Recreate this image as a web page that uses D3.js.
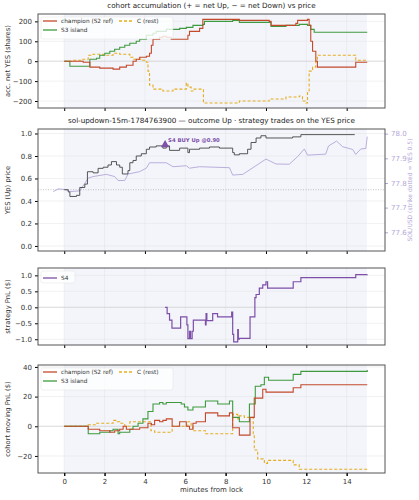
<!DOCTYPE html>
<html><head><meta charset="utf-8">
<script src="https://cdn.jsdelivr.net/npm/d3@7"></script>
<style>body{margin:0;background:#fff}text{font-family:"DejaVu Sans",sans-serif}</style>
</head><body><svg id="c" width="419" height="500"></svg>
<script>
// step series: [minutes from lock, value]
const accChampion = [[0,0],[0.94,-5],[1.27,-30],[1.76,-35],[2.42,-40],[2.75,-30],[3.08,-20],[3.41,0],[3.57,10],[3.74,20],[4.07,25],[4.23,40],[4.32,80],[4.4,110],[4.73,120],[4.89,125],[5.06,120],[5.3,110],[6.05,110],[6.13,130],[6.21,150],[6.71,165],[6.87,210],[8.68,205],[10.16,200],[10.25,180],[11.48,190],[11.57,205],[12.06,210],[12.14,180],[12.22,100],[12.31,50],[12.47,0],[12.55,-30],[14.45,-5],[15.02,-5]];
const accIsland = [[0,0],[0.28,-25],[1.19,-25],[1.27,10],[1.6,15],[1.76,30],[2.01,40],[2.26,50],[2.5,60],[2.75,70],[3.0,80],[3.25,90],[3.57,100],[3.74,110],[4.07,130],[4.4,140],[4.56,150],[5.06,160],[5.72,165],[6.05,170],[6.38,180],[6.87,185],[6.95,200],[8.35,205],[8.68,195],[10.16,195],[10.25,175],[10.99,180],[11.65,185],[12.06,180],[12.22,160],[12.39,145],[15.02,145]];
const accRest = [[0,0],[0.44,5],[0.86,10],[1.19,30],[1.43,35],[1.93,30],[2.42,40],[2.75,35],[3.25,20],[3.41,10],[3.9,5],[4.07,-5],[4.15,-50],[4.23,-120],[4.4,-140],[4.89,-150],[5.39,-140],[6.05,-110],[6.13,-130],[6.29,-150],[6.38,-140],[6.87,-140],[6.9,-210],[8.6,-210],[8.68,-200],[10.0,-200],[10.16,-190],[10.99,-180],[11.65,-175],[11.81,-200],[11.98,-210],[12.06,-150],[12.14,-50],[12.31,-30],[12.47,0],[12.55,30],[14.37,30],[14.45,5],[15.02,5]];
const yesPrice = [[0,0.50],[0.2,0.48],[0.28,0.44],[0.61,0.45],[0.77,0.52],[1.02,0.55],[1.15,0.66],[1.43,0.65],[1.68,0.69],[1.93,0.70],[2.17,0.72],[2.34,0.75],[2.59,0.72],[2.75,0.70],[2.88,0.64],[3.16,0.67],[3.25,0.74],[3.41,0.76],[3.57,0.80],[3.82,0.82],[4.07,0.86],[4.23,0.88],[4.56,0.89],[4.89,0.87],[5.06,0.89],[5.22,0.85],[5.72,0.87],[6.13,0.83],[6.21,0.86],[6.71,0.87],[7.2,0.88],[7.69,0.87],[8.35,0.83],[8.43,0.81],[8.68,0.82],[9.09,0.86],[9.26,0.92],[9.51,0.96],[9.75,0.98],[10.0,0.96],[11.32,0.97],[11.73,0.99],[14.4,0.99]];
const solPrice = [[-0.54,77.765],[-0.3,77.776],[0.1,77.773],[0.28,77.765],[0.77,77.768],[1.19,77.82],[1.43,77.826],[2.09,77.835],[2.5,77.826],[2.67,77.81],[3.0,77.81],[3.16,77.836],[3.74,77.846],[4.07,77.86],[4.23,77.882],[5.06,77.882],[5.39,77.866],[6.05,77.87],[6.21,77.86],[6.71,77.866],[8.19,77.862],[8.35,77.832],[8.85,77.835],[10.0,77.897],[10.5,77.877],[11.15,77.876],[11.57,77.907],[11.9,77.938],[12.06,77.913],[12.96,77.917],[13.1,77.95],[13.5,77.97],[13.8,77.947],[14.3,77.936],[14.45,77.916],[14.7,77.938],[14.95,77.94],[15.02,77.988]];
const s4Trade = {t: 5.0, price: 0.90, label: "S4 BUY Up @0.90"};
const s4Pnl = [[5.0,0],[5.1,-0.2],[5.22,-0.4],[5.34,-0.65],[5.77,-0.3],[6.08,-0.55],[6.13,-0.98],[6.21,-0.75],[6.26,-0.98],[6.34,-0.75],[6.4,-0.4],[7.0,-0.55],[7.03,-0.2],[7.07,-0.42],[7.36,-0.2],[7.6,-0.3],[8.3,-0.15],[8.35,-0.85],[8.4,-1.08],[8.6,-0.7],[8.63,-1.0],[8.68,-0.97],[9.21,-0.3],[9.45,0.3],[9.51,0.4],[9.67,0.6],[9.84,0.7],[10.0,0.8],[10.08,0.6],[11.35,0.8],[11.73,0.93],[14.45,1.02],[15.02,1.03]];
const pnlChampion = [[0,0],[1.19,-2],[1.76,-3],[2.26,-4],[2.5,-3],[2.75,-2],[2.92,0],[3.08,-2],[3.74,-1],[4.15,2],[4.32,1],[4.48,4],[4.73,3],[4.89,4],[5.06,5],[5.35,0],[5.72,3],[6.05,0],[6.21,-2],[6.38,2],[6.54,3],[7.0,9],[7.61,7],[8.19,9],[8.35,-1],[8.68,-6],[9.21,6],[9.42,19],[9.84,25],[10.0,23],[11.35,26],[11.73,28],[15.02,28]];
const pnlIsland = [[0,0],[1.19,-5],[1.76,-4],[2.26,-3],[2.42,-2],[2.67,-5],[2.75,-4],[3.25,-2],[3.41,0],[3.66,2],[3.9,5],[4.15,10],[4.4,15],[4.73,16],[4.89,15],[5.06,16],[5.8,15],[5.96,13],[6.13,11],[6.38,13],[7.0,17],[7.61,15],[8.19,17],[8.35,6],[8.68,3],[9.18,15],[9.47,27],[9.75,28],[9.92,33],[10.13,31],[11.35,35],[11.73,37],[14.95,37],[15.02,38]];
const pnlRest = [[0,0],[1.19,1],[1.6,2],[2.42,4],[2.59,3],[2.75,2],[3.0,0],[3.25,3],[4.07,3],[4.3,-3],[4.48,-4],[5.35,0],[6.13,3],[6.29,0],[6.38,-3],[7.0,-5],[8.35,8],[8.6,5],[8.68,7],[8.93,6],[9.37,-5],[9.42,-16],[9.59,-22],[9.92,-25],[10.08,-23],[11.35,-26],[11.65,-29],[15.02,-29]];
const xTicks = [0,2,4,6,8,10,12,14];

const C = {champ:"#c4492b", island:"#3f9a3f", rest:"#e6ad1e", yes:"#444", sol:"#b3a6d8", s4:"#7d4fa8"};
const svg = d3.select("#c");
const L = 38, R = 385;
const x = d3.scaleLinear().domain([-1.3, 15.9]).range([L, R]);

function panel(top, bottom, ydom, ticks, fmt, label) {
  const y = d3.scaleLinear().domain(ydom).range([bottom, top]);
  const g = svg.append("g");
  g.append("rect").attr("x", x(0)).attr("y", top).attr("width", x(15) - x(0)).attr("height", bottom - top).attr("fill", "#f3f5fb");
  g.selectAll(".gx").data(xTicks).join("line").attr("x1", d => x(d)).attr("x2", d => x(d)).attr("y1", top).attr("y2", bottom).attr("stroke", "#e3e3e3").attr("stroke-width", 0.5);
  g.selectAll(".gy").data(ticks).join("line").attr("x1", L).attr("x2", R).attr("y1", d => y(d)).attr("y2", d => y(d)).attr("stroke", "#e3e3e3").attr("stroke-width", 0.5);
  const ax = g.append("g").attr("transform", `translate(${L},0)`).call(d3.axisLeft(y).tickValues(ticks).tickFormat(fmt).tickSize(3));
  ax.select(".domain").remove();
  ax.selectAll("text").attr("font-size", 7).attr("fill", "#333");
  const bx = g.append("g").attr("transform", `translate(0,${bottom})`).call(d3.axisBottom(x).tickValues(xTicks).tickFormat("").tickSize(3));
  bx.select(".domain").remove();
  g.append("text").attr("transform", `translate(10,${(top + bottom) / 2}) rotate(-90)`).attr("text-anchor", "middle").attr("font-size", 6.8).attr("fill", "#333").text(label);
  return {g, y, top, bottom, frame() {
    g.append("rect").attr("x", L).attr("y", top).attr("width", R - L).attr("height", bottom - top).attr("fill", "none").attr("stroke", "#555").attr("stroke-width", 1);
  }};
}
const minus = d => String(d).replace("-", "\u2212");
function step(p, data, color, dash, w) {
  p.g.append("path").datum(data).attr("fill", "none").attr("stroke", color).attr("stroke-width", w || 1.1)
    .attr("stroke-dasharray", dash || null)
    .attr("d", d3.line().x(d => x(d[0])).y(d => p.y(d[1])).curve(d3.curveStepAfter));
}
function zeroLine(p) {
  p.g.append("line").attr("x1", L).attr("x2", R).attr("y1", p.y(0)).attr("y2", p.y(0)).attr("stroke", "#ccc").attr("stroke-width", 0.6);
}
function legend(p, items) {
  const lg = p.g.append("g");
  lg.append("rect").attr("x", L + 3).attr("y", p.top + 3).attr("width", items.length > 1 ? 132 : 34).attr("height", items.length > 1 ? 22 : 12).attr("fill", "#fff").attr("opacity", 0.8).attr("stroke", "#ddd").attr("stroke-width", 0.5).attr("rx", 2);
  items.forEach(it => {
    lg.append("line").attr("x1", it.x).attr("x2", it.x + 14).attr("y1", it.y).attr("y2", it.y).attr("stroke", it.c).attr("stroke-width", 1.3).attr("stroke-dasharray", it.d || null);
    lg.append("text").attr("x", it.x + 18).attr("y", it.y + 2).attr("font-size", 5.8).attr("fill", "#333").text(it.t);
  });
}
function title(yy, t) {
  svg.append("text").attr("x", (L + R) / 2).attr("y", yy).attr("text-anchor", "middle").attr("font-size", 7.2).attr("fill", "#222").text(t);
}

// panel 1
const p1 = panel(14, 108, [-235, 237], [-200,-100,0,100,200], minus, "acc. net YES (shares)");
zeroLine(p1);
step(p1, accRest, C.rest, "3,2");
step(p1, accIsland, C.island);
step(p1, accChampion, C.champ);
legend(p1, [{x:43,y:21,c:C.champ,t:"champion (S2 ref)"},{x:43,y:30,c:C.island,t:"S3 island"},{x:119,y:21,c:C.rest,t:"C (rest)",d:"3,2"}]);
p1.frame();
title(8, "cohort accumulation (+ = net Up, \u2212 = net Down) vs price");

// panel 2
const p2 = panel(129, 251, [-0.045, 1.04], [0,0.2,0.4,0.6,0.8,1.0], d3.format(".1f"), "YES (Up) price");
const yR = d3.scaleLinear().domain([77.524, 78.019]).range([251, 129]);
p2.g.append("line").attr("x1", L).attr("x2", R).attr("y1", p2.y(0.5)).attr("y2", p2.y(0.5)).attr("stroke", "#aaa").attr("stroke-width", 0.7).attr("stroke-dasharray", "1,1.5");
p2.g.append("path").datum(solPrice).attr("fill", "none").attr("stroke", C.sol).attr("stroke-width", 0.9)
  .attr("d", d3.line().x(d => x(d[0])).y(d => yR(d[1])));
step(p2, yesPrice, C.yes, null, 0.9);
p2.g.append("path").attr("d", d3.symbol(d3.symbolTriangle, 30)()).attr("transform", `translate(${x(s4Trade.t)},${p2.y(s4Trade.price)})`).attr("fill", C.s4);
p2.g.append("text").attr("x", x(s4Trade.t) + 3).attr("y", p2.y(s4Trade.price) - 3).attr("font-size", 5.3).attr("font-weight", "bold").attr("fill", C.s4).text(s4Trade.label);
const ra = p2.g.append("g").attr("transform", `translate(${R},0)`).call(d3.axisRight(yR).tickValues([77.6,77.7,77.8,77.9,78.0]).tickFormat(d3.format(".1f")).tickSize(3));
ra.select(".domain").remove();
ra.selectAll("line").attr("stroke", C.sol);
ra.selectAll("text").attr("font-size", 7).attr("fill", C.sol);
p2.g.append("text").attr("transform", `translate(412,190) rotate(-90)`).attr("text-anchor", "middle").attr("font-size", 6).attr("fill", C.sol).text("SOL/USD (strike dotted = YES 0.5)");
p2.frame();
title(123, "sol-updown-15m-1784763900 \u2014 outcome Up \u00b7 strategy trades on the YES price");

// panel 3
const p3 = panel(268, 345, [-1.18, 1.23], [-1.0,-0.5,0,0.5,1.0], d => minus(d3.format(".1f")(d)), "strategy PnL ($)");
zeroLine(p3);
step(p3, s4Pnl, C.s4, null, 1.2);
legend(p3, [{x:43,y:278,c:C.s4,t:"S4"}]);
p3.frame();

// panel 4
const p4 = panel(365, 473, [-31.5, 41.3], [-20,0,20,40], minus, "cohort moving PnL ($)");
zeroLine(p4);
step(p4, pnlRest, C.rest, "3,2");
step(p4, pnlIsland, C.island);
step(p4, pnlChampion, C.champ);
legend(p4, [{x:43,y:372,c:C.champ,t:"champion (S2 ref)"},{x:43,y:381,c:C.island,t:"S3 island"},{x:119,y:372,c:C.rest,t:"C (rest)",d:"3,2"}]);
p4.frame();
const xa = svg.append("g").attr("transform", "translate(0,473)").call(d3.axisBottom(x).tickValues(xTicks).tickFormat(d3.format("d")).tickSize(3));
xa.select(".domain").remove();
xa.selectAll("text").attr("font-size", 7).attr("fill", "#333");
svg.append("text").attr("x", (L + R) / 2).attr("y", 492).attr("text-anchor", "middle").attr("font-size", 7).attr("fill", "#333").text("minutes from lock");
</script></body></html>
